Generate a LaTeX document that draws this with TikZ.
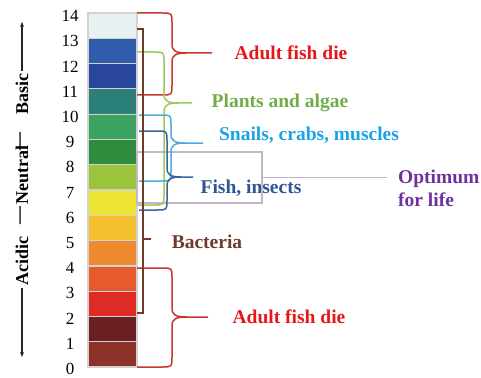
\documentclass[tikz,border=0pt]{standalone}
\usepackage{fontspec}
\setmainfont{Liberation Serif}
\usetikzlibrary{arrows.meta, positioning}

\definecolor{phA}{HTML}{E9F1F3}
\definecolor{phB}{HTML}{2E5BAA}
\definecolor{phC}{HTML}{29479A}
\definecolor{phD}{HTML}{2B8079}
\definecolor{phE}{HTML}{3BA262}
\definecolor{phF}{HTML}{2E8C3F}
\definecolor{phG}{HTML}{9CC43B}
\definecolor{phH}{HTML}{EDE434}
\definecolor{phI}{HTML}{F4BF2F}
\definecolor{phJ}{HTML}{EE8B30}
\definecolor{phK}{HTML}{E75A2B}
\definecolor{phL}{HTML}{DF2B26}
\definecolor{phM}{HTML}{6A2023}
\definecolor{phN}{HTML}{8E3129}
\definecolor{fishred}{HTML}{E8161B}
\definecolor{redline}{HTML}{C9352C}
\definecolor{plantgreen}{HTML}{70AD47}
\definecolor{greenline}{HTML}{9DC95C}
\definecolor{snailblue}{HTML}{1BA3E6}
\definecolor{snailline}{HTML}{4DABD9}
\definecolor{fishblue}{HTML}{2F5597}
\definecolor{fishline}{HTML}{3A64A0}
\definecolor{bactbrown}{HTML}{6E3B2B}
\definecolor{optpurple}{HTML}{7030A0}
\definecolor{optline}{HTML}{C4B6C8}

\tikzset{
  block/.style  = {draw=gray!35, line width=1.2pt},
  num/.style    = {font=\fontsize{17}{17}\selectfont},
  lbl/.style    = {font=\bfseries\fontsize{19.5}{23}\selectfont, inner sep=2pt},
  axis/.style   = {font=\bfseries\fontsize{18}{18}\selectfont, rotate=90, inner sep=2pt},
  axarr/.style  = {-{Stealth[length=5pt,width=4pt]}, line width=1.2pt, draw=black!85},
  brace/.style  = {line width=1.5pt},
}

% curly brace: colour, start x, top y, bottom y, spine x, tip y, tip x
\newcommand{\phbrace}[7]{%
  \draw[brace, #1] (#2,#3) -- ({#5-10},#3)
    .. controls (#5,#3) .. ({#5},{#3+10}) -- (#5,{#6-9})
    .. controls (#5,{#6-2}) and ({#5+4},#6) .. ({#5+14},#6) -- (#7,#6);
  \draw[brace, #1] (#2,#4) -- ({#5-10},#4)
    .. controls (#5,#4) .. ({#5},{#4-10}) -- (#5,{#6+9})
    .. controls (#5,{#6+2}) and ({#5+4},#6) .. ({#5+14},#6);
}

\begin{document}
\begin{tikzpicture}[x=1pt, y=-1pt]
  \useasboundingbox (0,0) rectangle (481,377);

  % pH colour bar, top (14) to bottom (0)
  \foreach \c [count=\i from 0] in {phA,phB,phC,phD,phE,phF,phG,phH,phI,phJ,phK,phL,phM,phN}
    \draw[block, fill=\c] (88,{13+25.29*\i}) rectangle (137,{13+25.29*(\i+1)});

  % scale numbers
  \foreach \n in {0,...,14}
    \node[num] (n\n) at (70,{369-25.2*\n}) {\n};

  % axis
  \node[axis] (basic)   at (22,94)  {Basic};
  \node[axis] (dashA)   at (22,141) {—};
  \node[axis] (neutral) at (22,175) {Neutral};
  \node[axis] (dashB)   at (22,215) {—};
  \node[axis] (acidic)  at (22,261) {Acidic};
  \coordinate (axtop) at (22,22);
  \coordinate (axbot) at (22,357);
  \draw[axarr] (basic.east)  -- (axtop);
  \draw[axarr] (acidic.west) -- (axbot);

  % labels
  \node[lbl, text=fishred]    (dieA)   at (291,53)  {Adult fish die};
  \node[lbl, text=plantgreen] (plants) at (280,103) {Plants and algae};
  \node[lbl, text=snailblue]  (snails) at (309,135) {Snails, crabs, muscles};
  \node[lbl, text=fishblue]   (fish)   at (251,188) {Fish, insects};
  \node[lbl, text=bactbrown]  (bact)   at (207,242) {Bacteria};
  \node[lbl, text=fishred]    (dieB)   at (289,317) {Adult fish die};
  \node[lbl, text=optpurple, align=left, anchor=west]
        (opt) at (396,188) {Optimum\\for life};

  % optimum box
  \node[draw=optline, line width=1.2pt, minimum width=125pt, minimum height=51pt,
        inner sep=0pt] (optbox) at (199.5,177.5) {};
  \draw[optline, line width=1.2pt, shorten >=9pt] (optbox.east) -- (opt.west |- optbox.east);

  % braces
  \phbrace{redline}{137}{13}{95}{172}{53}{212}
  \phbrace{greenline}{137}{52}{205}{164}{103}{192}
  \phbrace{snailline}{139}{115}{181}{171}{143}{203}
  \phbrace{fishline}{139}{131}{210}{167}{177}{193}
  \phbrace{redline}{137}{268}{367}{172}{317}{208}

  % bacteria bracket
  \draw[bactbrown, line width=1.5pt] (137,29) -| (143,313) -- (137,313);
  \draw[bactbrown, line width=1.5pt] (143,239) -- (151,239);
\end{tikzpicture}
\end{document}
